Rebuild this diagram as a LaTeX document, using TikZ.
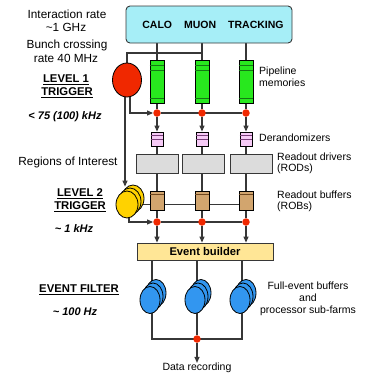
\documentclass[tikz,border=0pt]{standalone}
\usepackage{fontspec}
\setmainfont{Liberation Sans}
\usetikzlibrary{shapes.geometric,arrows.meta,backgrounds}
\definecolor{detcyan}{RGB}{166,238,247}
\definecolor{pipegreen}{RGB}{40,232,30}
\definecolor{pipestripe}{RGB}{20,120,20}
\definecolor{dotred}{RGB}{240,40,0}
\definecolor{derpink}{RGB}{246,202,246}
\definecolor{derstripe}{RGB}{120,60,120}
\definecolor{rodgray}{RGB}{220,220,220}
\definecolor{robtan}{RGB}{210,165,110}
\definecolor{robstripe}{RGB}{110,70,30}
\definecolor{ltyellow}{RGB}{255,210,0}
\definecolor{ebfill}{RGB}{255,230,150}
\definecolor{efblue}{RGB}{50,150,240}
\definecolor{linec}{RGB}{55,55,55}
\begin{document}
\begin{tikzpicture}[x=1pt,y=-1pt,
  conn/.style={draw=linec, line width=1.1pt},
  arr/.style={conn, -{Triangle[length=6pt,width=5pt]}},
  dot/.style={circle, fill=dotred, inner sep=0, minimum size=7.5pt},
  detbox/.style={rounded corners=4pt, draw=linec, line width=0.9pt, fill=detcyan, minimum width=166pt, minimum height=37pt, inner sep=0, font=\bfseries\fontsize{10.5}{12}\selectfont},
  pipebox/.style={draw=black, line width=0.8pt, fill=pipegreen, minimum width=14pt, minimum height=43pt, inner sep=0},
  derbox/.style={draw=black, line width=0.8pt, fill=derpink, minimum width=12pt, minimum height=14pt, inner sep=0},
  rodbox/.style={draw=linec, line width=0.8pt, fill=rodgray, minimum width=42pt, minimum height=19pt, inner sep=0},
  robbox/.style={draw=black, line width=0.8pt, fill=robtan, minimum width=14pt, minimum height=19pt, inner sep=0},
  lonered/.style={ellipse, draw=black, line width=0.8pt, fill=dotred, minimum width=29pt, minimum height=34pt, inner sep=0},
  ltwoell/.style={ellipse, draw=black, line width=0.8pt, fill=ltyellow, minimum width=22pt, minimum height=27pt, inner sep=0},
  efell/.style={ellipse, draw=black, line width=0.8pt, fill=efblue, minimum width=20pt, minimum height=27pt, inner sep=0},
  ebbox/.style={draw=linec, line width=0.8pt, fill=ebfill, minimum width=136pt, minimum height=17pt, inner sep=0, font=\bfseries\fontsize{11.2}{13}\selectfont},
  stripe/.style={line width=0.6pt},
  lbl/.style={font=\fontsize{10.5}{12}\selectfont, inner sep=0},
  lbll/.style={lbl, anchor=west},
  side/.style={font=\fontsize{11.8}{14}\selectfont, inner sep=0},
  head/.style={font=\bfseries\fontsize{11.3}{13}\selectfont, inner sep=0},
  ratetxt/.style={font=\bfseries\itshape\fontsize{11}{13}\selectfont, inner sep=0}
]
\useasboundingbox (0,0) rectangle (373,376);

% detector box
\node[detbox] (det) at (209,24.5) {\hspace{8pt}CALO\hspace{12pt}MUON\hspace{12pt}TRACKING};

% pipelines
\node[pipebox] (P1) at (157,81.5) {};
\node[pipebox] (P2) at (202,81.5) {};
\node[pipebox] (P3) at (246,81.5) {};
\foreach \p in {P1,P2,P3} {
  \draw[stripe,pipestripe] ([yshift=-6pt]\p.north west) -- ([yshift=-6pt]\p.north east);
  \draw[stripe,pipestripe] ([yshift=-11pt]\p.north west) -- ([yshift=-11pt]\p.north east);
  \draw[stripe,pipestripe] ([yshift=5pt]\p.south west) -- ([yshift=5pt]\p.south east);
}
\coordinate (tap) at (202,53);

% level 1
\node[lonered] (L1) at (127,80) {};
\node[dot] (D1) at (157,113) {};
\node[dot] (D2) at (202,113) {};
\node[dot] (D3) at (246,113) {};

% derandomizers
\node[derbox] (DR1) at (157,139) {};
\node[derbox] (DR2) at (202,139) {};
\node[derbox] (DR3) at (246,139) {};
\foreach \p in {DR1,DR2,DR3} {
  \draw[stripe,derstripe] ([yshift=-4pt]\p.north west) -- ([yshift=-4pt]\p.north east);
  \draw[stripe,derstripe] ([yshift=-8pt]\p.north west) -- ([yshift=-8pt]\p.north east);
}

% RODs
\node[rodbox] (RD1) at (157,163.5) {};
\node[rodbox] (RD2) at (203.5,163.5) {};
\node[rodbox] (RD3) at (251,163.5) {};

% ROBs
\node[robbox] (RB1) at (157,200.5) {};
\node[robbox] (RB2) at (202,200.5) {};
\node[robbox] (RB3) at (246,200.5) {};
\foreach \p in {RB1,RB2,RB3} {
  \draw[stripe,robstripe] ([yshift=-4pt]\p.north west) -- ([yshift=-4pt]\p.north east);
}

% level 2 processors
\node[ltwoell] (Y3) at (133,198.5) {};
\node[ltwoell] (Y2) at (130,201.5) {};
\node[ltwoell] (Y1) at (127,204.5) {};

\node[dot] (E1) at (157,222) {};
\node[dot] (E2) at (202,222) {};
\node[dot] (E3) at (246,222) {};

% event builder
\node[ebbox] (EB) at (205,251.5) {Event builder};

% event filter farms
\node[efell] (F1a) at (156,293) {};
\node[efell] (F1b) at (153,296.5) {};
\node[efell] (F1c) at (150,300) {};
\node[efell] (F2a) at (201,293) {};
\node[efell] (F2b) at (198,296.5) {};
\node[efell] (F2c) at (195,300) {};
\node[efell] (F3a) at (246,293) {};
\node[efell] (F3b) at (243,296.5) {};
\node[efell] (F3c) at (240,300) {};

\node[dot] (G) at (197,339) {};
\node[lbl] (rec) at (197,368) {Data recording};

% connectors
\begin{scope}[on background layer]
  \draw[conn] (P1.north |- det.south) -- (P1.north);
  \draw[conn] (P2.north |- det.south) -- (P2.north);
  \draw[conn] (P3.north |- det.south) -- (P3.north);
  \draw[conn] (L1.center) |- (tap);
  \draw[conn] (P1.south) -- (D1);
  \draw[conn] (P2.south) -- (D2);
  \draw[conn] (P3.south) -- (D3);
  \draw[conn] (D1) -- (D3);
  \draw[arr] ([xshift=3pt]L1.center) |- (D1.west);
  \draw[arr] ([xshift=-2pt]L1.center) -- ([xshift=-2pt,yshift=-2pt]L1.center |- Y3.north);
  \draw[arr] (D1) -- (DR1.north);
  \draw[arr] (D2) -- (DR2.north);
  \draw[arr] (D3) -- (DR3.north);
  \draw[conn] (DR1) -- (RB1);
  \draw[conn] (DR2) -- (RB2);
  \draw[conn] (DR3) -- (RB3);
  \draw[conn] (Y1.center) -- (Y1.center -| RB3.center);
  \draw[conn] (RB1) -- (E1);
  \draw[conn] (RB2) -- (E2);
  \draw[conn] (RB3) -- (E3);
  \draw[conn] (E1) -- (E3);
  \draw[arr] ([xshift=2pt]Y1.center) |- (E1.west);
  \draw[arr] (E1) -- (E1 |- EB.north);
  \draw[arr] (E2) -- (E2 |- EB.north);
  \draw[arr] (E3) -- (E3 |- EB.north);
  \draw[conn] ([xshift=2pt]F1c.center |- EB.south) -- ([xshift=2pt]F1c.center |- G.center) -- ([xshift=2pt]F3c.center |- G.center) -- ([xshift=2pt]F3c.center |- EB.south);
  \draw[conn] ([xshift=2pt]F2c.center |- EB.south) -- (G);
  \draw[arr] (G) -- (rec.north);
\end{scope}

% left texts
\node[side] (t1) at (67,14) {Interaction rate};
\node[side] (t2) at (66,27) {\textasciitilde1 GHz};
\node[side] (t3) at (67,45) {Bunch crossing};
\node[side] (t4) at (66,58) {rate 40 MHz};
\node[head] (h1) at (66,80) {\underline{LEVEL 1}};
\node[head] (h2) at (67,93) {\underline{TRIGGER}};
\node[ratetxt] (r1) at (65,117) {< 75 (100) kHz};
\node[side] (roi) at (68,162) {Regions of Interest};
\node[head] (h3) at (80,194) {\underline{LEVEL 2}};
\node[head] (h4) at (80,207) {\underline{TRIGGER}};
\node[ratetxt] (r2) at (74,229) {\textasciitilde{} 1 kHz};
\node[head] (h5) at (79,290) {\underline{EVENT FILTER}};
\node[ratetxt] (r3) at (75,312) {\textasciitilde{} 100 Hz};

% right texts
\node[lbll] (l1) at (259,72) {Pipeline};
\node[lbll] (l2) at (259,83) {memories};
\node[lbll] (l3) at (259,138) {Derandomizers};
\node[lbll] (l4) at (277,157) {Readout drivers};
\node[lbll] (l5) at (277,169) {(RODs)};
\node[lbll] (l6) at (277,195) {Readout buffers};
\node[lbll] (l7) at (277,207) {(ROBs)};
\node[lbl] (l8) at (308,286) {Full-event buffers};
\node[lbl] (l9) at (308,298) {and};
\node[lbl] (l10) at (308,311) {processor sub-farms};
\end{tikzpicture}
\end{document}
